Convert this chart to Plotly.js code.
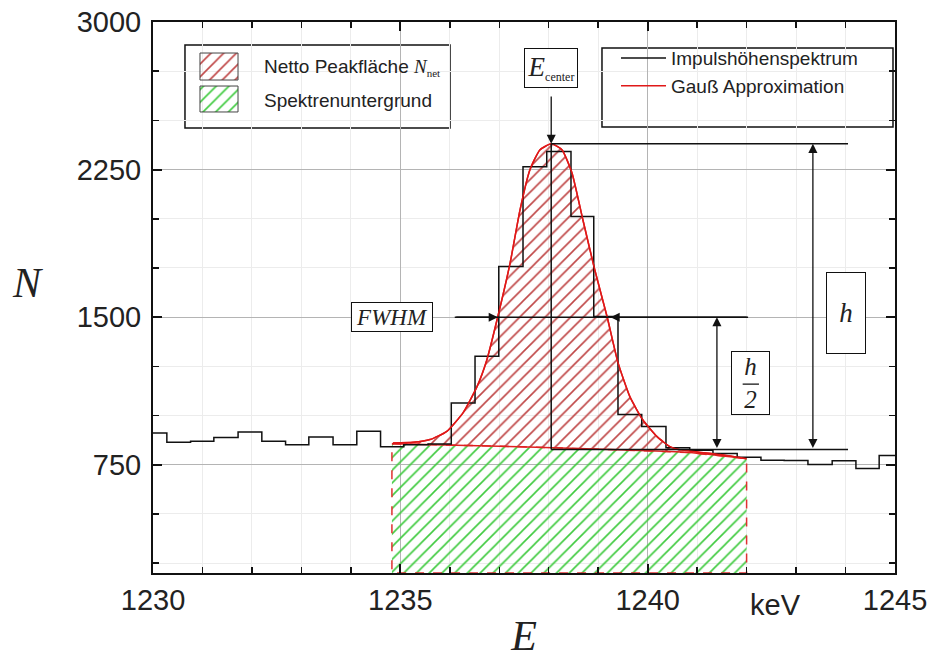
<!DOCTYPE html>
<html>
<head>
<meta charset="utf-8">
<script src="https://cdn.plot.ly/plotly-3.0.1.min.js"></script>
<style>html,body{margin:0;padding:0;background:#fff;}#chart{width:936px;height:666px;}</style>
</head>
<body>
<div id="chart"></div>
<script>
// ---- data ----
const binEdges = [1229.80, 1230.28, 1230.76, 1231.23, 1231.72, 1232.20, 1232.68, 1233.15, 1233.64, 1234.12, 1234.60, 1235.07, 1235.56, 1236.03, 1236.51, 1236.99, 1237.48, 1237.96, 1238.45, 1238.91, 1239.40, 1239.88, 1240.37, 1240.85, 1241.32, 1241.81, 1242.29, 1242.76, 1243.24, 1243.73, 1244.21, 1244.68, 1245.16];
const counts = [912, 864, 869, 889, 917, 869, 852, 891, 852, 920, 842, 852, 855, 1064, 1301, 1758, 2265, 2342, 2012, 1504, 1005, 945, 836, 824, 807, 788, 773, 772, 751, 771, 731, 797];

const gaussE = [1234.85, 1235.26, 1235.60, 1235.94, 1236.27, 1236.55, 1236.75, 1236.97, 1237.22, 1237.42, 1237.62, 1237.82, 1238.05, 1238.27, 1238.47, 1238.69, 1238.93, 1239.18, 1239.40, 1239.64, 1239.90, 1240.19, 1240.45, 1240.65, 1241.46, 1242.00];
const gaussN = [861, 864, 878, 920, 1015, 1147, 1284, 1502, 1776, 2045, 2249, 2350, 2381, 2350, 2233, 1995, 1741, 1502, 1269, 1096, 979, 893, 842, 827, 802, 781];

const bgE = [1234.83, 1237.40, 1239.85, 1240.85, 1242.00];
const bgN = [857, 842, 822, 812, 781];

const xTickLabels = ['1230', '1235', '1240', '1245'];
const yTickLabels = ['750', '1500', '2250', '3000'];

// annotation geometry
const baseN = 827, fwhmN = 1500;
const lineEndE = 1244.05, hArrowE = 1243.34, h2ArrowE = 1241.40;
const fwhmStartE = 1236.10, fwhmEndE = 1242.03, fwhmRightTipE = 1239.25;
const yMin = 200;

// ---- derived ----
let peakIdx = 0;
gaussN.forEach((v, i) => { if (v > gaussN[peakIdx]) peakIdx = i; });
const peakE = gaussE[peakIdx], peakN = gaussN[peakIdx];
const fwhmLeftTipE = gaussE[gaussN.indexOf(1502)];

const sans = 'Liberation Sans, Arial, sans-serif';
const serif = 'Liberation Serif, Times New Roman, serif';

const traces = [];
// background (green hatched)
traces.push({
  x: bgE.concat([bgE[bgE.length - 1], bgE[0], bgE[0]]),
  y: bgN.concat([yMin, yMin, bgN[0]]),
  type: 'scatter', mode: 'lines', fill: 'toself',
  fillcolor: 'rgba(0,0,0,0)',
  fillpattern: {shape: '/', fgcolor: '#3fca3f', bgcolor: 'rgba(255,255,255,0)', size: 9, solidity: 0.18},
  line: {color: '#e03030', width: 1.5, dash: 'dash'},
  showlegend: false, hoverinfo: 'skip'
});
// net peak area (red hatched)
traces.push({
  x: gaussE.concat(bgE.slice().reverse()),
  y: gaussN.concat(bgN.slice().reverse()),
  type: 'scatter', mode: 'lines', fill: 'toself',
  fillcolor: 'rgba(0,0,0,0)',
  fillpattern: {shape: '/', fgcolor: '#c04848', bgcolor: 'rgba(255,255,255,0)', size: 9, solidity: 0.18},
  line: {color: '#e02020', width: 1.5, shape: 'spline', smoothing: 0.5},
  showlegend: false, hoverinfo: 'skip'
});
// spectrum histogram
traces.push({
  x: binEdges,
  y: counts.concat([counts[counts.length - 1]]),
  type: 'scatter', mode: 'lines', line: {color: '#111', width: 1.5, shape: 'hv'},
  name: 'Impulshöhenspektrum', legend: 'legend'
});
// gauss fit
traces.push({
  x: gaussE, y: gaussN, type: 'scatter', mode: 'lines',
  line: {color: '#e01818', width: 1.5, shape: 'spline', smoothing: 0.5},
  name: 'Gauß Approximation', legend: 'legend'
});
// custom legend swatches (in plot-fraction coordinates)
function swatch(x0, x1, y0, y1, col) {
  return {
    x: [x0, x1, x1, x0, x0], y: [y0, y0, y1, y1, y0], xaxis: 'x2', yaxis: 'y2',
    type: 'scatter', mode: 'lines', fill: 'toself', fillcolor: 'rgba(0,0,0,0)',
    fillpattern: {shape: '/', fgcolor: col, bgcolor: 'rgba(255,255,255,0)', size: 9, solidity: 0.18},
    line: {color: '#444', width: 1}, showlegend: false, hoverinfo: 'skip'
  };
}
traces.push(swatch(0.0633, 0.1146, 0.8947, 0.9437, '#c04848'));
traces.push(swatch(0.0633, 0.1146, 0.8367, 0.8838, '#3fca3f'));

const line = (x0, y0, x1, y1, w) => ({type: 'line', xref: 'x', yref: 'y', x0, y0, x1, y1, line: {color: '#111', width: w || 1.5}, layer: 'above'});

const shapes = [
  {type: 'rect', xref: 'paper', yref: 'paper', x0: 0.0431, x1: 0.4003, y0: 0.8076, y1: 0.9583, fillcolor: 'white', line: {color: '#111', width: 1.5}, layer: 'between'},
  {type: 'rect', xref: 'paper', yref: 'paper', x0: 0.6051, x1: 0.9973, y0: 0.8094, y1: 0.9528, fillcolor: 'white', line: {color: '#111', width: 1.5}, layer: 'between'},
  line(peakE, baseN, peakE, peakN),
  line(peakE, peakN, lineEndE, peakN),
  line(peakE, baseN, lineEndE, baseN),
  line(fwhmStartE, fwhmN, fwhmEndE, fwhmN)
];

const arrow = (x, y, ax, ay, side) => ({
  x, y, ax, ay, xref: 'x', yref: 'y', axref: 'x', ayref: 'y', text: '', showarrow: true,
  arrowhead: 2, startarrowhead: 2, arrowsize: 1.4, startarrowsize: 1.4, arrowwidth: 1.3, arrowcolor: '#111',
  arrowside: side || 'end', standoff: 0, startstandoff: 0
});

const annotations = [
  {xref: 'paper', yref: 'paper', x: -0.1685, y: 0.526, xanchor: 'center', yanchor: 'middle', text: '<i>N</i>', showarrow: false, font: {family: serif, size: 42, color: '#222'}},
  {xref: 'paper', yref: 'paper', x: 0.8396, y: -0.058, xanchor: 'center', yanchor: 'middle', text: 'keV', showarrow: false, font: {family: sans, size: 29, color: '#222'}},
  {xref: 'paper', yref: 'paper', x: 0.1469, y: 0.9183, xanchor: 'left', yanchor: 'middle', text: 'Netto Peakfläche <span style="font-family:Liberation Serif"><i>N</i></span><sub><span style="font-family:Liberation Serif;font-size:11px">net</span></sub>', showarrow: false, font: {family: sans, size: 19, color: '#222'}},
  {xref: 'paper', yref: 'paper', x: 0.1469, y: 0.8584, xanchor: 'left', yanchor: 'middle', text: 'Spektrenuntergrund', showarrow: false, font: {family: sans, size: 19, color: '#222'}},
  {xref: 'x', yref: 'paper', x: peakE, y: 0.9165, xanchor: 'center', yanchor: 'middle', text: '<i>E</i><sub><span style="font-size:12px">center</span></sub>', showarrow: false, font: {family: serif, size: 27, color: '#222'}, bordercolor: '#111', borderwidth: 1, borderpad: 1, bgcolor: 'white', width: 50, height: 36},
  arrow(peakE, peakN, peakE, 2629),
  {xref: 'x', yref: 'y', x: 1234.83, y: fwhmN, text: '<i>FWHM</i>', showarrow: false, font: {family: serif, size: 23, color: '#222'}, bordercolor: '#111', borderwidth: 1, borderpad: 1, bgcolor: 'white', width: 78, height: 26},
  arrow(fwhmLeftTipE, fwhmN, fwhmStartE, fwhmN),
  arrow(fwhmRightTipE, fwhmN, fwhmEndE, fwhmN),
  arrow(hArrowE, peakN, hArrowE, baseN, 'end+start'),
  arrow(h2ArrowE, fwhmN, h2ArrowE, baseN, 'end+start'),
  {xref: 'x', yref: 'y', x: 1244.0, y: 1520, text: '<i>h</i>', showarrow: false, font: {family: serif, size: 27, color: '#222'}, bordercolor: '#111', borderwidth: 1, borderpad: 1, bgcolor: 'white', width: 36, height: 78},
  {xref: 'x', yref: 'y', x: 1242.07, y: 1165, text: '<i>h</i><br><i>2</i>', showarrow: false, font: {family: serif, size: 25, color: '#222'}, bordercolor: '#111', borderwidth: 1, borderpad: 1, bgcolor: 'white', width: 35, height: 60},
  // fraction bar of h/2 (drawn as a headless arrow so it sits above the box)
  {xref: 'x', yref: 'y', axref: 'x', ayref: 'y', x: 1242.25, y: 1160, ax: 1241.89, ay: 1160, text: '', showarrow: true, arrowhead: 0, arrowwidth: 1.3, arrowcolor: '#111', standoff: 0, startstandoff: 0}
];

const axisCommon = {
  showline: true, linecolor: '#111', linewidth: 2, mirror: 'allticks',
  ticks: 'inside', ticklen: 9, tickwidth: 2, tickcolor: '#111',
  showgrid: true, gridcolor: '#b4b4b4', gridwidth: 1, zeroline: false,
  tickfont: {family: sans, size: 29, color: '#222'}
};

const layout = {
  width: 936, height: 666,
  margin: {l: 153, r: 41, t: 22, b: 93},
  paper_bgcolor: 'white', plot_bgcolor: 'white',
  font: {family: sans, color: '#222'},
  xaxis: Object.assign({}, axisCommon, {
    range: [1230, 1245], tickmode: 'array', tickvals: xTickLabels.map(Number), ticktext: xTickLabels,
    minor: {dtick: 1, tick0: 1230, ticks: 'inside', ticklen: 6, tickwidth: 1.5, tickcolor: '#111', showgrid: true, gridcolor: '#ececec', gridwidth: 1},
    title: {text: '<i>E</i>', font: {family: serif, size: 42, color: '#222'}, standoff: 6}
  }),
  xaxis2: {overlaying: 'x', range: [0, 1], visible: false, anchor: 'y2', fixedrange: true},
  yaxis: Object.assign({}, axisCommon, {
    range: [yMin, 3000], tickmode: 'array', tickvals: yTickLabels.map(Number), ticktext: yTickLabels,
    minor: {dtick: 250, tick0: 0, ticks: 'inside', ticklen: 6, tickwidth: 1.5, tickcolor: '#111', showgrid: true, gridcolor: '#ececec', gridwidth: 1},
    ticklabelstandoff: 4
  }),
  yaxis2: {overlaying: 'y', range: [0, 1], visible: false, anchor: 'x2', fixedrange: true},
  showlegend: true,
  legend: {x: 0.624, y: 0.969, xanchor: 'left', yanchor: 'top', bgcolor: 'rgba(0,0,0,0)', borderwidth: 0,
           font: {family: sans, size: 19, color: '#222'}, itemwidth: 45, tracegroupgap: 0},
  shapes, annotations
};

Plotly.newPlot('chart', traces, layout, {staticPlot: true, displayModeBar: false});
</script>
</body>
</html>
